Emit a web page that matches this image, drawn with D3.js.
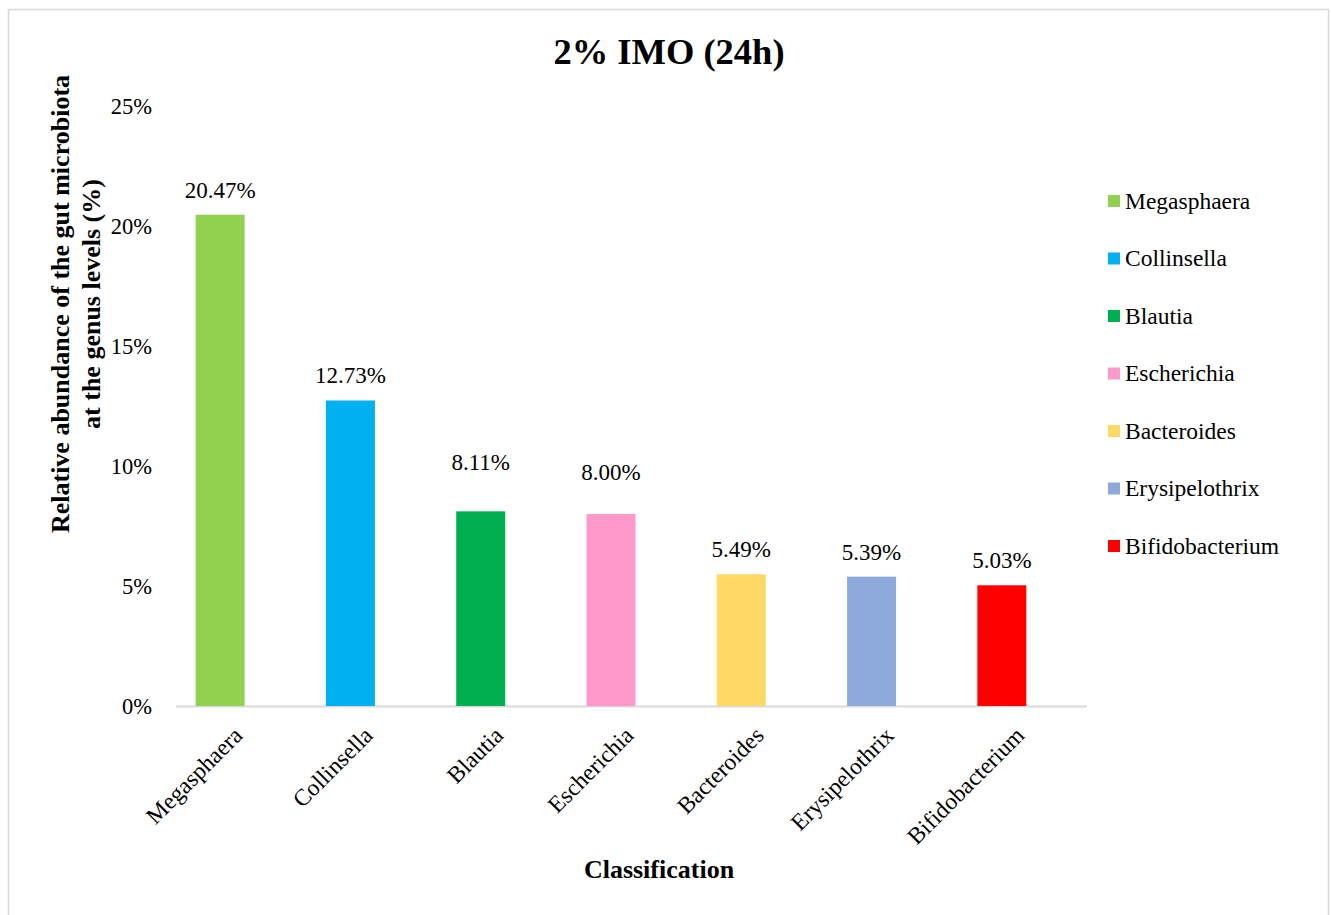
<!DOCTYPE html>
<html>
<head>
<meta charset="utf-8">
<script src="https://cdn.jsdelivr.net/npm/d3@7"></script>
<style>
  body { margin: 0; background: #fff; }
  svg text { font-family: 'Liberation Serif', 'Times New Roman', serif; fill: #000; }
</style>
</head>
<body>
<div id="chart"></div>
<script>
const genera = ['Megasphaera', 'Collinsella', 'Blautia', 'Escherichia', 'Bacteroides', 'Erysipelothrix', 'Bifidobacterium'];
const abundance = [20.47, 12.73, 8.11, 8.00, 5.49, 5.39, 5.03];
const palette = ['#92D050', '#00B0F0', '#00B050', '#FF99CC', '#FFD966', '#8EA9DB', '#FF0000'];
const yTicks = [0, 5, 10, 15, 20, 25];

const width = 1331;
const height = 915;

const svg = d3.select('#chart').append('svg')
  .attr('width', width)
  .attr('height', height);

// chart area frame
svg.append('rect')
  .attr('x', 8.5).attr('y', 9.5)
  .attr('width', 1320).attr('height', 930)
  .attr('fill', 'none')
  .attr('stroke', '#d9d9d9')
  .attr('stroke-width', 1.5);

const x = d3.scaleBand()
  .domain(genera)
  .range([155, 1067])
  .paddingInner(0.624)
  .paddingOuter(0.312);

const y = d3.scaleLinear()
  .domain([0, 25])
  .range([706, 106]);

const color = d3.scaleOrdinal().domain(genera).range(palette);

// y axis (labels only)
svg.append('g')
  .attr('transform', 'translate(176,0)')
  .call(d3.axisLeft(y).tickValues(yTicks).tickSize(0).tickPadding(24).tickFormat((d) => `${d}%`))
  .call((g) => g.select('.domain').remove())
  .selectAll('text')
  .style('font-size', '22.5px');

// baseline
svg.append('line')
  .attr('x1', 176).attr('x2', 1087)
  .attr('y1', y(0) + 0.5).attr('y2', y(0) + 0.5)
  .attr('stroke', '#d9d9d9')
  .attr('stroke-width', 2);

const rows = genera.map((g, i) => ({ name: g, value: abundance[i] }));

svg.append('g')
  .selectAll('rect')
  .data(rows)
  .join('rect')
  .attr('x', (d) => x(d.name))
  .attr('y', (d) => y(d.value))
  .attr('width', x.bandwidth())
  .attr('height', (d) => y(0) - y(d.value))
  .attr('fill', (d) => color(d.name));

// a couple of labels were nudged up by hand in the original
const lift = { Blautia: 24, Escherichia: 17 };

svg.append('g')
  .selectAll('text')
  .data(rows)
  .join('text')
  .attr('x', (d) => x(d.name) + x.bandwidth() / 2)
  .attr('y', (d) => y(d.value) - 17 - (lift[d.name] || 0))
  .attr('text-anchor', 'middle')
  .style('font-size', '23px')
  .text((d) => `${d.value.toFixed(2)}%`);

// x axis category labels
const xAxis = svg.append('g')
  .attr('transform', `translate(0,${y(0)})`)
  .call(d3.axisBottom(x).tickSize(0).tickPadding(0));
xAxis.select('.domain').remove();
xAxis.selectAll('text')
  .attr('text-anchor', 'end')
  .attr('dy', '0.35em')
  .attr('transform', 'translate(18,25) rotate(-45)')
  .style('font-size', '23.5px');

// title
svg.append('text')
  .attr('x', 669).attr('y', 64)
  .attr('text-anchor', 'middle')
  .style('font-size', '36.5px')
  .style('font-weight', 'bold')
  .text('2% IMO (24h)');

// axis titles
const yTitle = svg.append('text')
  .attr('transform', 'translate(69,304) rotate(-90)')
  .attr('text-anchor', 'middle')
  .style('font-size', '26px')
  .style('font-weight', 'bold');
yTitle.append('tspan').attr('x', 0).attr('dy', 0).text('Relative abundance of the gut microbiota');
yTitle.append('tspan').attr('x', 0).attr('dy', 31).text('at the genus levels (%)');

svg.append('text')
  .attr('x', 659).attr('y', 878)
  .attr('text-anchor', 'middle')
  .style('font-size', '26px')
  .style('font-weight', 'bold')
  .text('Classification');

// legend
const legend = svg.append('g')
  .selectAll('g')
  .data(genera)
  .join('g')
  .attr('transform', (d, i) => `translate(1108,${201 + i * 57.5})`);

legend.append('rect')
  .attr('x', 0).attr('y', -6)
  .attr('width', 12).attr('height', 12)
  .attr('fill', (d) => color(d));

legend.append('text')
  .attr('x', 17).attr('y', 0)
  .attr('dy', '0.33em')
  .style('font-size', '23.5px')
  .text((d) => d);
</script>
</body>
</html>
